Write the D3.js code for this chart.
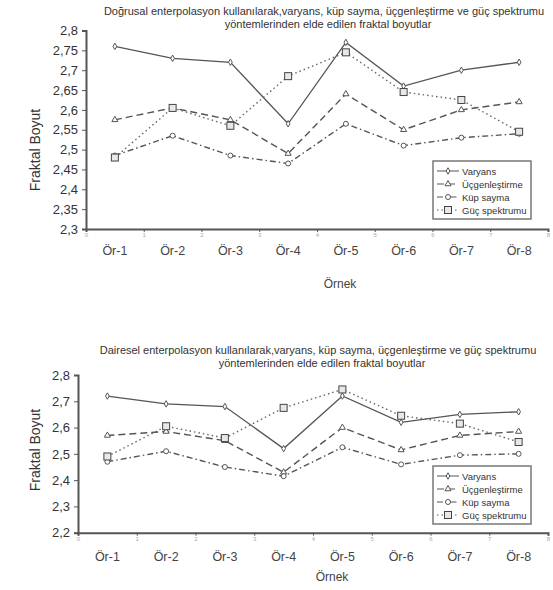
<!DOCTYPE html>
<html>
<head>
<meta charset="utf-8">
<script src="https://cdn.jsdelivr.net/npm/d3@7"></script>
<style>
  body { margin: 0; background: #fff; }
  svg { display: block; font-family: 'Liberation Sans', Arial, sans-serif; }
</style>
</head>
<body>
<svg width="553" height="590"></svg>
<script>
const categories = ['Ör-1', 'Ör-2', 'Ör-3', 'Ör-4', 'Ör-5', 'Ör-6', 'Ör-7', 'Ör-8']
const seriesNames = ['Varyans', 'Üçgenleştirme', 'Küp sayma', 'Güç spektrumu']

// Doğrusal enterpolasyon
const linVaryans = [2.76, 2.73, 2.72, 2.565, 2.77, 2.66, 2.70, 2.72]
const linUcgen = [2.575, 2.605, 2.575, 2.49, 2.64, 2.55, 2.60, 2.62]
const linKup = [2.485, 2.535, 2.485, 2.465, 2.565, 2.51, 2.53, 2.54]
const linGuc = [2.48, 2.605, 2.56, 2.685, 2.745, 2.645, 2.625, 2.545]
const linTicks = [2.3, 2.35, 2.4, 2.45, 2.5, 2.55, 2.6, 2.65, 2.7, 2.75, 2.8]

// Dairesel enterpolasyon
const cirVaryans = [2.72, 2.69, 2.68, 2.52, 2.72, 2.62, 2.65, 2.66]
const cirUcgen = [2.57, 2.585, 2.55, 2.43, 2.60, 2.515, 2.57, 2.585]
const cirKup = [2.47, 2.51, 2.45, 2.415, 2.525, 2.46, 2.495, 2.50]
const cirGuc = [2.49, 2.605, 2.56, 2.675, 2.745, 2.645, 2.615, 2.545]
const cirTicks = [2.2, 2.3, 2.4, 2.5, 2.6, 2.7, 2.8]

const svg = d3.select('svg')
const ink = '#555'
const styles = [
  { dash: null, marker: 'diamond' },
  { dash: '7,4', marker: 'triangle' },
  { dash: '6,3,1.5,3', marker: 'circle' },
  { dash: '1.5,3', marker: 'square' }
]

const drawMarker = (g, type, x, y) => {
  if (type === 'square') {
    g.append('rect').attr('x', x - 3.5).attr('y', y - 3.5).attr('width', 7).attr('height', 7)
      .attr('fill', '#e8e8e8').attr('stroke', '#444').attr('stroke-width', 1)
  } else if (type === 'circle') {
    g.append('circle').attr('cx', x).attr('cy', y).attr('r', 2.5)
      .attr('fill', '#fff').attr('stroke', ink)
  } else if (type === 'triangle') {
    g.append('path').attr('d', d3.symbol(d3.symbolTriangle, 16)())
      .attr('transform', `translate(${x},${y})`).attr('fill', '#fff').attr('stroke', ink)
  } else {
    g.append('path').attr('d', d3.symbol(d3.symbolDiamond, 12)())
      .attr('transform', `translate(${x},${y})`).attr('fill', '#fff').attr('stroke', ink)
  }
}

const drawChart = opts => {
  const g = svg.append('g')
  const x = d3.scaleLinear().domain([0, categories.length]).range([opts.left, opts.right])
  const y = d3.scaleLinear().domain(opts.domain).range([opts.bottom, opts.top])

  /** Title */
  g.append('text').attr('x', opts.titleX).attr('y', opts.titleY).attr('text-anchor', 'middle')
    .attr('font-size', 11).attr('fill', '#333').text(opts.title[0])
  g.append('text').attr('x', opts.titleX + 4).attr('y', opts.titleY + 12.5).attr('text-anchor', 'middle')
    .attr('font-size', 11).attr('fill', '#333').text(opts.title[1])

  /** Axes */
  const yAxis = d3.axisLeft(y).tickValues(opts.ticks).tickSize(4).tickPadding(4)
    .tickFormat(d => d3.format(opts.fmt)(d).replace('.', ','))
  const ga = g.append('g').attr('transform', `translate(${opts.left},0)`).call(yAxis)
  ga.select('.domain').attr('stroke', ink).attr('stroke-width', 2)
  ga.selectAll('.tick line').attr('stroke', ink)
  ga.selectAll('text').attr('font-size', 13).attr('fill', '#333').attr('font-family', 'Liberation Sans, Arial')

  const xAxis = d3.axisBottom(x).ticks(8).tickSize(3).tickPadding(1).tickFormat(d => d)
  const gx = g.append('g').attr('transform', `translate(0,${opts.bottom})`).call(xAxis)
  gx.select('.domain').attr('stroke', ink).attr('stroke-width', 2)
  gx.selectAll('.tick line').attr('stroke', ink)
  gx.selectAll('text').attr('font-size', 6).attr('fill', '#aaa')

  /** Category labels */
  g.selectAll('.cat').data(categories).enter().append('text')
    .attr('x', (d, i) => x(i + 0.5)).attr('y', opts.bottom + opts.catOff)
    .attr('text-anchor', 'middle').attr('font-size', 12.5).attr('fill', '#444').text(d => d)

  g.append('text').attr('x', opts.xTitleX).attr('y', opts.bottom + opts.xTitleOff)
    .attr('text-anchor', 'middle').attr('font-size', 12).attr('fill', '#444').text('Örnek')
  g.append('text').attr('transform', `translate(40,${opts.yTitleY}) rotate(-90)`)
    .attr('text-anchor', 'middle').attr('font-size', 14).attr('fill', '#333').text('Fraktal Boyut')

  /** Lines */
  const line = d3.line().x((d, i) => x(i + 0.5)).y(d => y(d))
  opts.series.forEach((s, k) => {
    g.append('path').datum(s).attr('d', line).attr('fill', 'none')
      .attr('stroke', k === 3 ? '#666' : ink).attr('stroke-width', k === 0 ? 1.3 : 1.4)
      .attr('stroke-dasharray', styles[k].dash)
  })
  opts.series.forEach((s, k) => {
    s.forEach((v, i) => drawMarker(g, styles[k].marker, x(i + 0.5), y(v)))
  })

  /** Legend */
  const lg = g.append('g').attr('transform', `translate(${opts.legend[0]},${opts.legend[1]})`)
  lg.append('rect').attr('width', 98).attr('height', 58).attr('fill', '#fff')
    .attr('stroke', '#777').attr('stroke-width', 1.5)
  seriesNames.forEach((n, k) => {
    const ly = 10 + k * 13
    lg.append('line').attr('x1', 4).attr('x2', 26).attr('y1', ly).attr('y2', ly)
      .attr('stroke', ink).attr('stroke-dasharray', styles[k].dash)
    drawMarker(lg, styles[k].marker, 15, ly)
    lg.append('text').attr('x', 29).attr('y', ly + 3.5).attr('font-size', 9.5).attr('fill', '#333').text(n)
  })
}

drawChart({
  title: ['Doğrusal enterpolasyon kullanılarak,varyans, küp sayma, üçgenleştirme ve güç spektrumu',
    'yöntemlerinden elde edilen fraktal boyutlar'],
  titleX: 324, titleY: 15,
  left: 86, right: 548, top: 30.5, bottom: 229,
  domain: [2.3, 2.8], ticks: linTicks, fmt: '.2~f',
  series: [linVaryans, linUcgen, linKup, linGuc],
  catOff: 26, xTitleX: 340, xTitleOff: 59, yTitleY: 150,
  legend: [433, 161]
})

drawChart({
  title: ['Dairesel enterpolasyon kullanılarak,varyans, küp sayma, üçgenleştirme ve güç spektrumu',
    'yöntemlerinden elde edilen fraktal boyutlar'],
  titleX: 318, titleY: 354,
  left: 78, right: 548, top: 375, bottom: 532.7,
  domain: [2.2, 2.8], ticks: cirTicks, fmt: '.1f',
  series: [cirVaryans, cirUcgen, cirKup, cirGuc],
  catOff: 28, xTitleX: 332, xTitleOff: 48, yTitleY: 450,
  legend: [433, 466]
})
</script>
</body>
</html>
